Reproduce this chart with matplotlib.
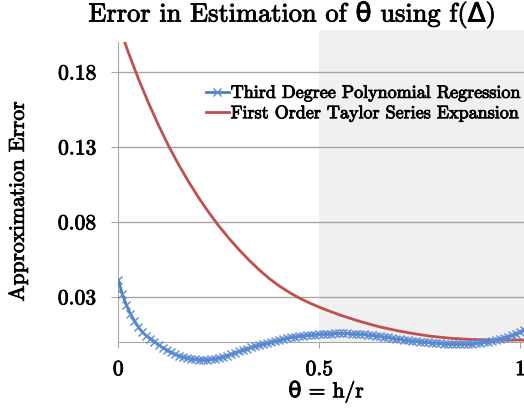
import matplotlib
matplotlib.use("Agg")
import matplotlib.pyplot as plt
import matplotlib.patheffects as pe

plt.rcParams['font.family'] = ['cmr10', 'DejaVu Sans']
plt.rcParams['mathtext.fontset'] = 'cm'
plt.rcParams['axes.unicode_minus'] = False

# ---- data ----
title = "Error in Estimation of θ using f(Δ)"
xlabel = "θ = h/r"
ylabel = "Approximation Error"
series_names = ["Third Degree Polynomial Regression", "First Order Taylor Series Expansion"]

poly_x = [i / 100 for i in range(0, 102)]
poly_err = [
    0.0412, 0.0315, 0.0245, 0.0184, 0.0138, 0.0097, 0.0062, 0.0038, 0.0019, 0.0000,
    -0.0021, -0.0041, -0.0056, -0.0071, -0.0084, -0.0094, -0.0102, -0.0109, -0.0114, -0.0118,
    -0.0120, -0.0121, -0.0121, -0.0119, -0.0115, -0.0110, -0.0103, -0.0095, -0.0085, -0.0076,
    -0.0066, -0.0057, -0.0048, -0.0039, -0.0031, -0.0024, -0.0017, -0.0010, -0.0004, 0.0002,
    0.0009, 0.0016, 0.0022, 0.0027, 0.0032, 0.0036, 0.0039, 0.0042, 0.0044, 0.0046,
    0.0048, 0.0050, 0.0052, 0.0053, 0.0054, 0.0055, 0.0055, 0.0054, 0.0053, 0.0052,
    0.0050, 0.0048, 0.0045, 0.0042, 0.0039, 0.0035, 0.0031, 0.0027, 0.0023, 0.0019,
    0.0015, 0.0011, 0.0008, 0.0005, 0.0002, 0.0000, -0.0003, -0.0006, -0.0008, -0.0010,
    -0.0012, -0.0014, -0.0016, -0.0017, -0.0018, -0.0018, -0.0018, -0.0017, -0.0015, -0.0012,
    -0.0009, -0.0005, 0.0000, 0.0005, 0.0011, 0.0018, 0.0025, 0.0033, 0.0042, 0.0052,
    0.0065, 0.0080,
]

taylor_x = [i * 0.025 for i in range(0, 41)] + [1.01]
taylor_err = [
    0.2118, 0.1928, 0.1753, 0.1592, 0.1443, 0.1305, 0.1180, 0.1065, 0.0959, 0.0861,
    0.0771, 0.0689, 0.0613, 0.0543, 0.0479, 0.0421, 0.0371, 0.0328, 0.0290, 0.0258,
    0.0229, 0.0203, 0.0178, 0.0156, 0.0135, 0.0116, 0.0098, 0.0083, 0.0069, 0.0057,
    0.0046, 0.0036, 0.0029, 0.0022, 0.0018, 0.0014, 0.0012, 0.0011, 0.0010, 0.0010,
    0.0010, 0.0010,
]

yticks = [0.03, 0.08, 0.13, 0.18]
xticks = [0, 0.5, 1]
xtick_labels = ["0", "0.5", "1"]
shade_x = [0.5, 1.01]

# ---- figure ----
W, H = 524, 408
fig = plt.figure(figsize=(W / 100, H / 100), dpi=100)
left, right, top, bottom = 118.3, 524, 41.7, 364
ax = fig.add_axes([left / W, 1 - bottom / H, (right - left) / W, (bottom - top) / H])
ax.set_xlim(0, 1.009)
ax.set_ylim(-0.015, 0.2)

grey = '#a6a6a6'
ax.fill_between(shade_x, 0, 0.2075, color='#f0f0f0', lw=0, zorder=0.1, clip_on=False)
ax.set_axisbelow(True)
ax.yaxis.grid(True, color=grey, lw=1)
ax.xaxis.grid(False)

ax.plot(poly_x, poly_err, color='#4f81bd', lw=2, marker='x', ms=5.5, mew=1.0,
        mec='#5b8bd2', label=series_names[0], zorder=3)
ax.plot(taylor_x, taylor_err, color='#c0504d', lw=2, label=series_names[1], zorder=2)

for s in ['top', 'right']:
    ax.spines[s].set_visible(False)
ax.spines['left'].set_bounds(0, 0.2)
ax.spines['left'].set_color(grey)
ax.spines['bottom'].set_position(('data', 0))
ax.spines['bottom'].set_color(grey)

ax.set_yticks(yticks)
ax.set_yticklabels([f"{v:.2f}" for v in yticks])
ax.set_xticks(xticks)
ax.set_xticklabels(xtick_labels)
ax.tick_params(axis='y', length=5, color=grey, pad=11, labelsize=15.5)
ax.tick_params(axis='x', length=4, color=grey, pad=9, labelsize=15.5)

stroke = [pe.withStroke(linewidth=0.6, foreground='black')]

texts = []
texts.append(fig.text(292 / W, 1 - 15 / H, title, ha='center', va='center', fontsize=19))
texts.append(fig.text(326 / W, 1 - 392 / H, xlabel, ha='center', va='center', fontsize=15.5))
texts.append(fig.text(18 / W, 1 - 201 / H, ylabel, ha='center', va='center', rotation=90, fontsize=15.5))

leg = ax.legend(loc='upper left', bbox_to_anchor=(206 / W, 1 - 85 / H),
                bbox_transform=fig.transFigure, frameon=False, fontsize=13,
                borderpad=0, borderaxespad=0, handlelength=1.25, handletextpad=0.12,
                labelspacing=0.25, numpoints=1)
texts += leg.get_texts()
texts += ax.get_xticklabels() + ax.get_yticklabels()
for t in texts:
    t.set_path_effects(stroke)

fig.savefig('out.png', dpi=100)
